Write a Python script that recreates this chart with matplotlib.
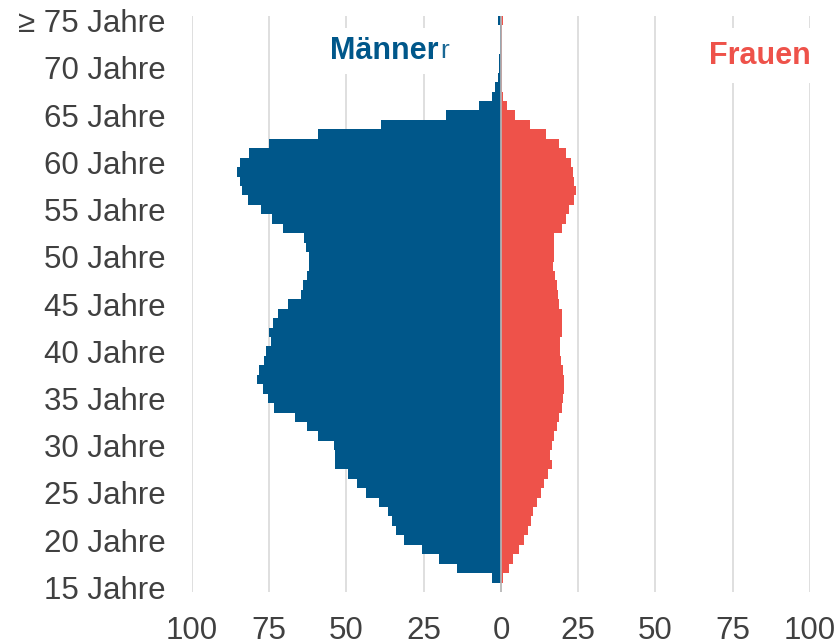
import numpy as np
import matplotlib
matplotlib.use("Agg")
import matplotlib.pyplot as plt
import matplotlib.ticker as mticker

BLUE = "#00578A"
RED = "#EE524A"
GREY_TXT = "#404040"
GRID = "#D9D9D9"

plt.rcParams["font.family"] = ["Liberation Sans", "DejaVu Sans"]

# ── data: persons per age year (15 ... ≥75) ──────────────────────────────────
ages = list(range(15, 76))
men = [0.0, 3.0, 14.2, 19.9, 25.6, 31.3, 34.0, 35.2, 36.6, 39.6,
       43.7, 46.6, 49.4, 53.6, 53.6, 54.0, 59.3, 62.9, 66.6, 73.4,
       75.4, 77.0, 78.8, 78.3, 76.7, 76.0, 74.5, 75.2, 73.9, 72.3,
       68.8, 64.7, 64.0, 62.9, 62.2, 62.2, 63.1, 63.8, 70.7, 74.2,
       77.6, 82.0, 83.7, 84.3, 85.4, 84.3, 81.4, 75.0, 59.2, 38.8,
       17.8, 7.0, 2.8, 1.9, 1.0, 0.6, 0.5, 0.4, 0.3, 0.3,
       1.1]
women = [0.0, 0.6, 2.6, 3.9, 5.7, 7.6, 8.7, 9.6, 10.3, 11.7,
         13.0, 14.0, 15.1, 16.5, 16.0, 16.5, 17.1, 18.1, 18.8, 19.8,
         20.1, 20.4, 20.4, 20.0, 19.3, 19.1, 19.1, 19.7, 19.8, 19.7,
         18.9, 18.4, 18.1, 17.6, 16.8, 17.0, 17.1, 17.3, 19.7, 21.0,
         22.1, 23.5, 24.4, 23.7, 23.2, 22.6, 21.1, 18.9, 14.5, 9.5,
         4.4, 1.9, 0.8, 0.3, 0.3, 0.2, 0.2, 0.2, 0.2, 0.2,
         0.5]
label_ages = [15, 20, 25, 30, 35, 40, 45, 50, 55, 60, 65, 70, 75]
age_labels = [f"{a} Jahre" for a in label_ages[:-1]] + ["≥ 75 Jahre"]
x_ticks = [-100, -75, -50, -25, 0, 25, 50, 75, 100]

# ── plot ─────────────────────────────────────────────────────────────────────
fig = plt.figure(figsize=(8.34, 6.44), dpi=100)
ax = fig.add_axes([0.2302, 0.0807, 0.7410, 0.8945])

y = np.arange(len(ages))
ax.barh(y, -np.array(men), height=1.0, color=BLUE, edgecolor="none", zorder=2)
ax.barh(y, women, height=1.0, color=RED, edgecolor="none", zorder=2)
ax.axvline(0, color="#B8B8B8", linewidth=1.2, zorder=3)

ax.set_xlim(-100, 100)
ax.set_ylim(-0.5, len(ages) - 0.5)
ax.set_xticks(x_ticks)
ax.xaxis.set_major_formatter(mticker.FuncFormatter(lambda v, p: f"{abs(v):.0f}"))
ax.set_yticks([ages.index(a) for a in label_ages])
ax.set_yticklabels(age_labels)
ax.tick_params(axis="both", length=0, labelsize=22.5, colors=GREY_TXT)
ax.tick_params(axis="y", pad=19)
ax.tick_params(axis="x", pad=17)
ax.grid(axis="x", color=GRID, linewidth=1.2, zorder=0)
ax.set_axisbelow(True)
for s in ax.spines.values():
    s.set_visible(False)

ax.text(-37.9, 56.8, "Männer", color=BLUE, fontsize=22, fontweight="bold",
        ha="center", va="center", zorder=4,
        bbox=dict(facecolor="white", edgecolor="none", pad=6))
ax.text(-19.8, 56.8, "r", color=BLUE, fontsize=19, ha="left", va="center",
        zorder=5, alpha=0.9)
ax.text(83.9, 56.3, "Frauen", color=RED, fontsize=22, fontweight="bold",
        ha="center", va="center", zorder=4,
        bbox=dict(facecolor="white", edgecolor="none", pad=9))

fig.savefig("out.png", dpi=100)
plt.close(fig)
